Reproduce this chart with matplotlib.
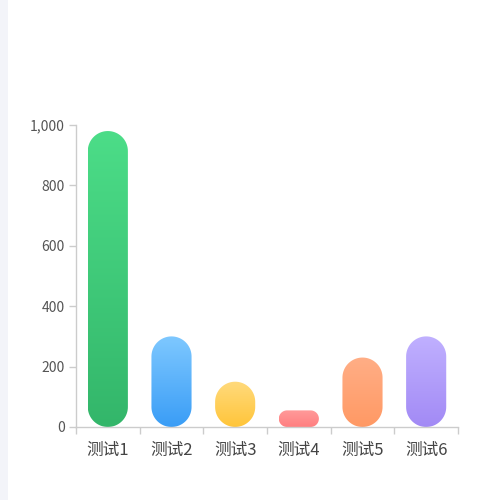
import numpy as np
import matplotlib
matplotlib.use("Agg")
import matplotlib.pyplot as plt
from matplotlib.patches import Polygon, Rectangle
from matplotlib.colors import LinearSegmentedColormap

plt.rcParams['font.family'] = ['Noto Sans CJK SC', 'DejaVu Sans']

categories = ['测试1', '测试2', '测试3', '测试4', '测试5', '测试6']
values = [980, 300, 150, 55, 230, 300]
# (top colour, bottom colour) of each bar's gradient
top_colors = ['#4cdd88', '#7ec8ff', '#ffda7c', '#ff9a9a', '#ffae86', '#c0b0ff']
bottom_colors = ['#33b66a', '#3a9df6', '#ffc53a', '#ff7f80', '#ff9964', '#a28af5']
yticks = [0, 200, 400, 600, 800, 1000]

fig = plt.figure(figsize=(5, 5), dpi=100)
fig.patch.set_facecolor('white')
# light strip on the left edge
fig.add_artist(Rectangle((0, 0), 8 / 500, 1, transform=fig.transFigure,
                         facecolor='#f3f4f9', edgecolor='none'))

ax = fig.add_axes([0.152, 0.146, 0.764, 0.604])
n = len(categories)
ax.set_xlim(-0.5, n - 0.5)
ax.set_ylim(0, 1000)

bw = 0.63
# data units per pixel in y over data units per pixel in x
bbox = ax.get_window_extent()
aspect = (1000 / bbox.height) / (n / bbox.width)


def pill(x0, w, h):
    # rounded bar, corners are circular in screen space
    r = min(w / 2, h / aspect / 2)
    t = np.linspace(0, np.pi / 2, 20)
    pts = []
    # bottom-right, top-right, top-left, bottom-left corners
    for cx, cy, a0 in [(x0 + w - r, r * aspect, -np.pi / 2),
                       (x0 + w - r, h - r * aspect, 0),
                       (x0 + r, h - r * aspect, np.pi / 2),
                       (x0 + r, r * aspect, np.pi)]:
        a = a0 + t
        pts += list(zip(cx + r * np.cos(a), cy + r * aspect * np.sin(a)))
    return Polygon(pts, closed=True, facecolor='none', edgecolor='none')


x = np.arange(n)
for i, v in enumerate(values):
    x0 = x[i] - bw / 2
    patch = pill(x0, bw, v)
    ax.add_patch(patch)
    cmap = LinearSegmentedColormap.from_list('g%d' % i, [bottom_colors[i], top_colors[i]])
    grad = np.linspace(0, 1, 256).reshape(-1, 1)
    im = ax.imshow(grad, cmap=cmap, extent=[x0, x0 + bw, 0, v],
                   origin='lower', aspect='auto', interpolation='bicubic', zorder=2)
    im.set_clip_path(patch)

ax.set_xlim(-0.5, n - 0.5)
ax.set_ylim(0, 1000)

for s in ['top', 'right']:
    ax.spines[s].set_visible(False)
for s in ['left', 'bottom']:
    ax.spines[s].set_color('#cccccc')
    ax.spines[s].set_linewidth(1)

ax.set_yticks(yticks)
ax.set_yticklabels(['{:,}'.format(t) for t in yticks])
ax.tick_params(axis='y', colors='#cccccc', labelcolor='#555555', labelsize=10,
               length=5, width=1, pad=3)

ax.set_xticks(np.arange(-0.5, n, 1.0))
ax.set_xticklabels([])
ax.set_xticks(x, minor=True)
ax.set_xticklabels(categories, minor=True)
ax.tick_params(axis='x', which='major', colors='#cccccc', length=5, width=1)
ax.tick_params(axis='x', which='minor', length=0, labelcolor='#444444',
               labelsize=12, pad=11)

fig.savefig('out.png', dpi=100)
